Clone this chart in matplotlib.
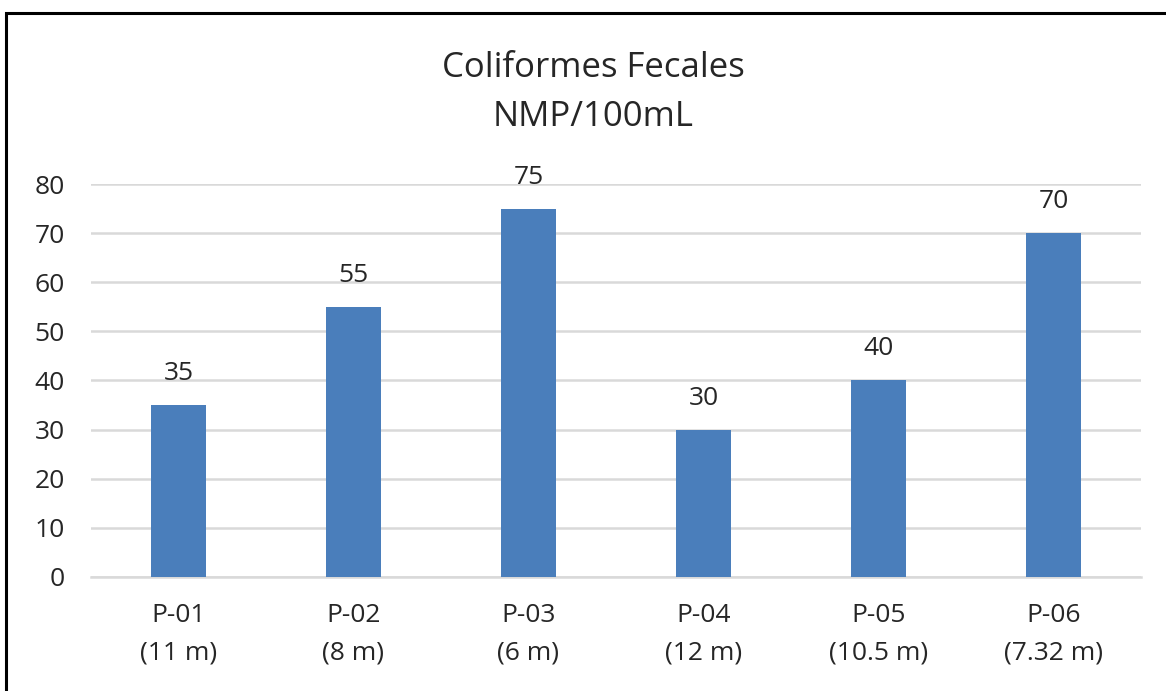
import matplotlib.pyplot as plt
from matplotlib.patches import Rectangle

# -------------------------
# Data
# -------------------------
stations = ["P-01\n(11 m)", "P-02\n(8 m)", "P-03\n(6 m)", "P-04\n(12 m)", "P-05\n(10.5 m)", "P-06\n(7.32 m)"]
coliformes = [35, 55, 75, 30, 40, 70]

plt.rcParams["font.family"] = ["Open Sans", "DejaVu Sans"]
TXT = "#262626"

fig = plt.figure(figsize=(11.66, 6.91), dpi=100)
ax = fig.add_axes([0.078, 0.165, 0.9006, 0.5687])

# chart frame (right / bottom edges run off the picture)
fig.patches.append(Rectangle((6 / 1166, -0.05), 1.2, 1 - 13 / 691 + 0.05, transform=fig.transFigure,
                             fill=False, edgecolor="black", linewidth=2.2, clip_on=False))

x = range(len(stations))
ax.bar(x, coliformes, width=0.314, color="#4a7ebb", zorder=3)

for i, v in enumerate(coliformes):
    ax.annotate(str(v), (i, v), xytext=(0, 18), textcoords="offset points",
                ha="center", va="baseline", fontsize=19, color=TXT)

ax.set_xlim(-0.5, len(stations) - 0.5)
ax.set_ylim(0, 80)
ax.set_yticks(range(0, 81, 10))
ax.set_xticks(list(x))
ax.set_xticklabels(stations, fontsize=19, color=TXT, linespacing=1.65)
ax.tick_params(axis="y", length=0, pad=19, labelsize=19, labelcolor=TXT)
ax.tick_params(axis="x", length=0, pad=19)
ax.grid(axis="y", color="#d9d9d9", linewidth=1.8, zorder=0)
for s in ["top", "right", "left"]:
    ax.spines[s].set_visible(False)
ax.spines["bottom"].set_color("#d9d9d9")
ax.spines["bottom"].set_linewidth(1.8)

fig.text(0.509, 0.901, "Coliformes Fecales", ha="center", va="center", fontsize=25, color=TXT)
fig.text(0.509, 0.830, "NMP/100mL", ha="center", va="center", fontsize=25, color=TXT)

plt.savefig("out.png", dpi=100)
plt.close()
